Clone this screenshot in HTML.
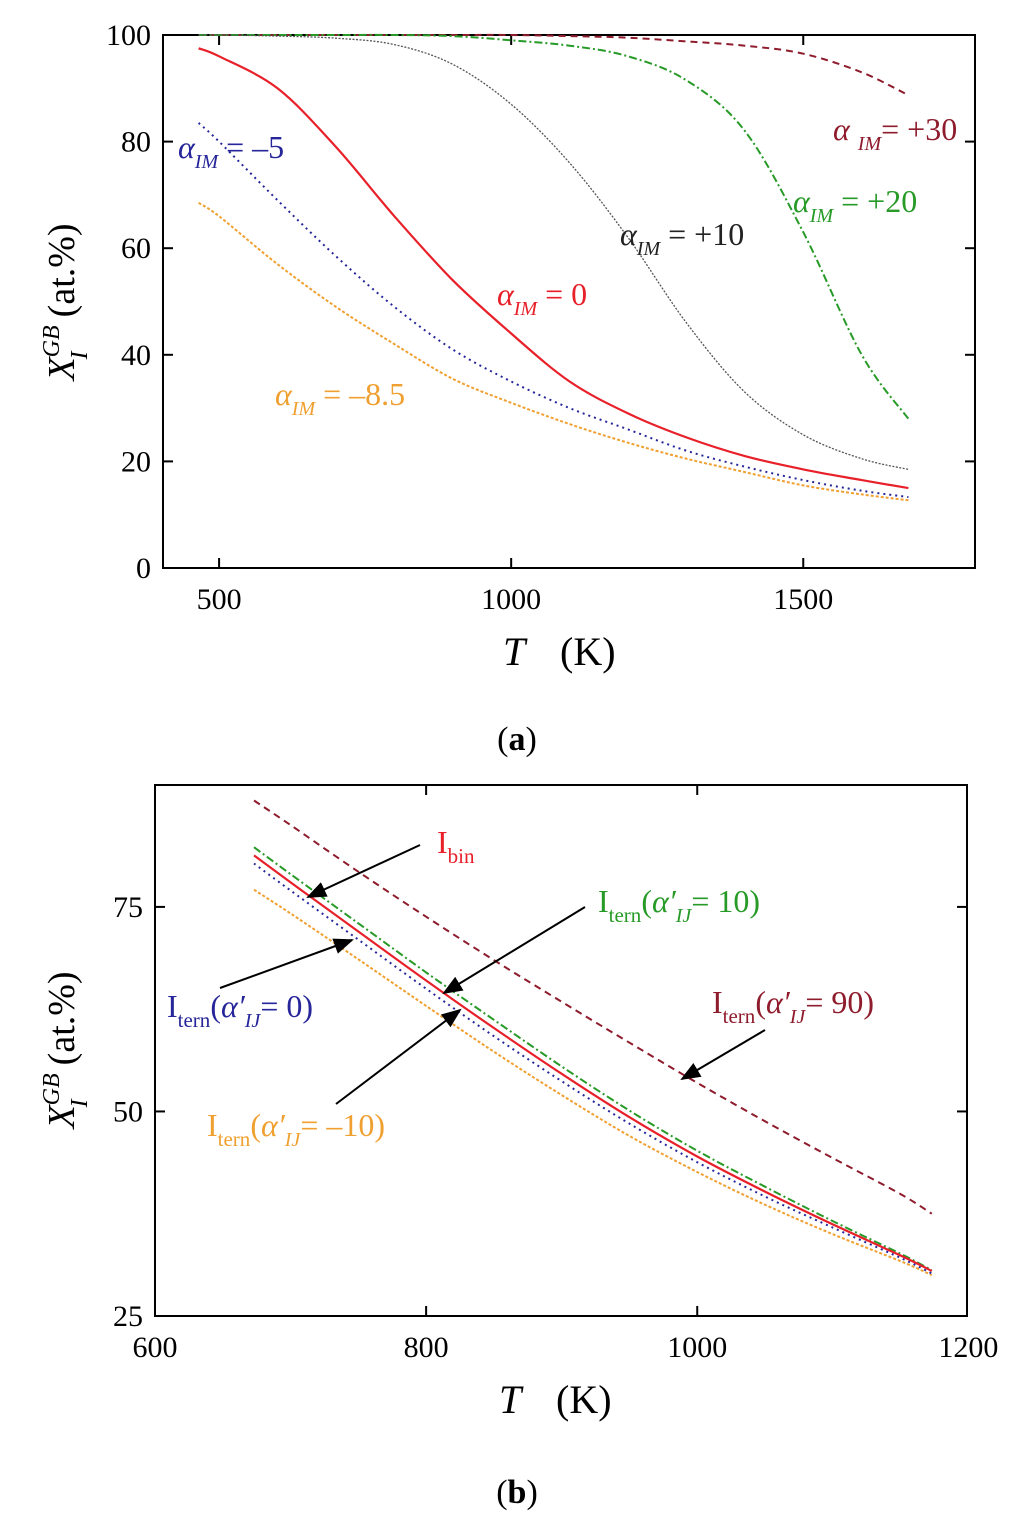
<!DOCTYPE html>
<html><head><meta charset="utf-8">
<style>
html,body{margin:0;padding:0;background:#fff;}
svg{display:block;font-family:"Liberation Serif",serif;}
</style></head>
<body>
<svg id="fig" width="1024" height="1527" viewBox="0 0 1024 1527" xmlns="http://www.w3.org/2000/svg">
<g id="pa"></g>
<g id="pb"></g>
</svg>
<script>
// ---- Panel (a) data ----
const tempA = [465,500,600,700,800,900,1000,1100,1200,1300,1400,1500,1600,1680];
const alphaM85 = [68.5,66,57,49,42,35.5,31,27,23.5,20.5,18,15.5,13.8,12.7];
const alphaM5 = [83.5,80,69,58.5,49,41,35,30,26,22,19,16.5,14.5,13.3];
const alpha0 = [97.5,96,90,79,66,54,44,35,29,24.5,21,18.5,16.5,15];
const alphaP10 = [100,100,99.8,99.4,98.2,94.5,87,76,62,46,33,25,20.5,18.5];
const alphaP20 = [100,100,100,100,100,99.8,99,98,96,91.5,82,63,40,28];
const alphaP30 = [100,100,100,100,100,100,100,99.8,99.5,98.8,98,96.5,93,88.7];
const xTicksA = [500,1000,1500];
const yTicksA = [0,20,40,60,80,100];
// ---- Panel (b) data ----
const tempB = [673,700,750,800,850,900,950,1000,1050,1100,1150,1173];
const ternM10 = [77.1,74.2,68.6,62.9,57.3,52,47,42.6,38.6,35,31.7,30];
const tern0 = [80.3,77,71,65,59.2,53.7,48.5,43.8,39.6,35.8,32.1,30.2];
const binI = [81.3,78,72,66,60.2,54.6,49.3,44.5,40.2,36.2,32.4,30.5];
const tern10 = [82.3,79,73,67,61.2,55.5,50.1,45.2,40.8,36.6,32.6,30.6];
const tern90 = [88,85,79.3,73.8,68.5,63.4,58.4,53.5,48.8,44.3,39.9,37.5];
const xTicksB = [600,800,1000,1200];
const yTicksB = [25,50,75];

const NS="http://www.w3.org/2000/svg";
function mk(tag, parent, attrs){const e=document.createElementNS(NS,tag);for(const k in attrs)e.setAttribute(k,attrs[k]);parent.appendChild(e);return e;}

function panel(g, box, xd, yd, xt, yt){
  const sx=v=>box.x0+(v-xd[0])/(xd[1]-xd[0])*(box.x1-box.x0);
  const sy=v=>box.y1-(v-yd[0])/(yd[1]-yd[0])*(box.y1-box.y0);
  const fr=mk('rect',g,{x:box.x0,y:box.y0,width:box.x1-box.x0,height:box.y1-box.y0,fill:'none',stroke:'#000','stroke-width':2});
  
  
  xt.forEach(v=>{
    const x=sx(v);
    if(x>box.x0+2&&x<box.x1-2){
      const t1=mk('line',g,{x1:x,x2:x,y1:box.y1,y2:box.y1-10,stroke:'#000','stroke-width':2});
      
      
      const t2=mk('line',g,{x1:x,x2:x,y1:box.y0,y2:box.y0+10,stroke:'#000','stroke-width':2});
      
      
    }
    const lb=mk('text',g,{x:x,y:box.y1+41,'font-size':30,'text-anchor':'middle',fill:'#000'});
    lb.textContent=v;
    
    
  });
  yt.forEach(v=>{
    const y=sy(v);
    if(y>box.y0+2&&y<box.y1-2){
      const t1=mk('line',g,{x1:box.x0,x2:box.x0+10,y1:y,y2:y,stroke:'#000','stroke-width':2});
      
      
      const t2=mk('line',g,{x1:box.x1,x2:box.x1-10,y1:y,y2:y,stroke:'#000','stroke-width':2});
      
      
    }
    const lb=mk('text',g,{x:box.x0-12,y:y+10,'font-size':30,'text-anchor':'end',fill:'#000'});
    lb.textContent=v;
    
    
  });
  return {sx,sy};
}
function series(g,s,xs,ys,color,w,dash,name){
  const P=xs.map((t,i)=>[s.sx(t),s.sy(ys[i])]);
  let d='M'+P[0][0].toFixed(1)+','+P[0][1].toFixed(1);
  for(let i=0;i<P.length-1;i++){
    const p0=P[Math.max(0,i-1)],p1=P[i],p2=P[i+1],p3=P[Math.min(P.length-1,i+2)];
    const c1=[p1[0]+(p2[0]-p0[0])/6,p1[1]+(p2[1]-p0[1])/6];
    const c2=[p2[0]-(p3[0]-p1[0])/6,p2[1]-(p3[1]-p1[1])/6];
    d+=' C'+c1[0].toFixed(1)+','+c1[1].toFixed(1)+' '+c2[0].toFixed(1)+','+c2[1].toFixed(1)+' '+p2[0].toFixed(1)+','+p2[1].toFixed(1);
  }
  const p=mk('path',g,{d:d,fill:'none',stroke:color,'stroke-width':w,'stroke-dasharray':dash,'stroke-linejoin':'round'});
  
  
}

const RED='#e8202a',GRAY='#555',GREEN='#279a27',DRED='#8e1c2c',BLUE='#26269a',ORANGE='#f0a030';

const ga=document.getElementById('pa');
const sA=panel(ga,{x0:163,y0:35,x1:975,y1:568},[404,1794],[0,100],xTicksA,yTicksA);
series(ga,sA,tempA,alphaP30,DRED,2,'7,5','line-alpha-plus30');
series(ga,sA,tempA,alphaP20,GREEN,2,'8,3,2,3','line-alpha-plus20');
series(ga,sA,tempA,alphaP10,GRAY,1.3,'2,1.5','line-alpha-plus10');
series(ga,sA,tempA,alphaM85,ORANGE,2,'3,2','line-alpha-minus8p5');
series(ga,sA,tempA,alphaM5,BLUE,2,'2,4','line-alpha-minus5');
series(ga,sA,tempA,alpha0,RED,2.2,'','line-alpha-0');

const gb=document.getElementById('pb');
const sB=panel(gb,{x0:155,y0:785,x1:967,y1:1316},[600,1199],[25,89.9],xTicksB,yTicksB);
series(gb,sB,tempB,tern90,DRED,2,'7,5','line-tern-90');
series(gb,sB,tempB,ternM10,ORANGE,2,'3,2','line-tern-minus10');
series(gb,sB,tempB,tern0,BLUE,2,'2,4','line-tern-0');
series(gb,sB,tempB,tern10,GREEN,2,'8,3,2,3','line-tern-10');
series(gb,sB,tempB,binI,RED,2.2,'','line-bin');
</script>

<svg style="position:absolute;left:0;top:0" width="1024" height="1527" viewBox="0 0 1024 1527" xmlns="http://www.w3.org/2000/svg" font-family="Liberation Serif, serif">
<defs><marker id="ah" markerWidth="10" markerHeight="8" refX="9" refY="4" orient="auto"><path d="M0,0 L10,4 L0,8 z" fill="#000"/></marker></defs>
<text x="178" y="158" font-size="32" fill="#26269a"><tspan font-style="italic">α</tspan><tspan font-size="20" font-style="italic" dy="10">IM</tspan><tspan dy="-10"> = –5</tspan></text>
<text x="833" y="140" font-size="32" fill="#8e1c2c"><tspan font-style="italic">α</tspan><tspan font-size="20" font-style="italic" dx="8" dy="10">IM</tspan><tspan dy="-10">= +30</tspan></text>
<text x="793" y="212" font-size="32" fill="#279a27"><tspan font-style="italic">α</tspan><tspan font-size="20" font-style="italic" dy="10">IM</tspan><tspan dy="-10"> = +20</tspan></text>
<text x="620" y="245" font-size="32" fill="#222"><tspan font-style="italic">α</tspan><tspan font-size="20" font-style="italic" dy="10">IM</tspan><tspan dy="-10"> = +10</tspan></text>
<text x="497" y="305" font-size="32" fill="#e8202a"><tspan font-style="italic">α</tspan><tspan font-size="20" font-style="italic" dy="10">IM</tspan><tspan dy="-10"> = 0</tspan></text>
<text x="275" y="405" font-size="32" fill="#f0a030"><tspan font-style="italic">α</tspan><tspan font-size="20" font-style="italic" dy="10">IM</tspan><tspan dy="-10"> = –8.5</tspan></text>
<g transform="translate(74,302) rotate(-90)"><text x="0" y="0" font-size="38" text-anchor="middle"><tspan font-style="italic">X</tspan><tspan font-size="24" font-style="italic" dy="-15">GB</tspan><tspan font-size="24" font-style="italic" dx="-34" dy="28">I</tspan><tspan dx="34" dy="-13">(at.%)</tspan></text></g>
<text y="665" font-size="40"><tspan x="503" font-style="italic">T</tspan><tspan x="560">(K)</tspan></text>
<text x="517" y="750" font-size="34" text-anchor="middle">(<tspan font-weight="bold">a</tspan>)</text>
<text x="437" y="853" font-size="32" fill="#e8202a">I<tspan font-size="21" dy="10">bin</tspan></text>
<line x1="420" y1="845" x2="308" y2="897" stroke="#000" stroke-width="2" marker-end="url(#ah)"/>
<text x="598" y="912" font-size="32" fill="#279a27">I<tspan font-size="21" dy="10">tern</tspan><tspan dy="-10">(</tspan><tspan font-style="italic">α′</tspan><tspan font-size="20" font-style="italic" dy="10">IJ</tspan><tspan dy="-10">= 10)</tspan></text>
<line x1="585" y1="907" x2="444" y2="993" stroke="#000" stroke-width="2" marker-end="url(#ah)"/>
<text x="167" y="1017" font-size="32" fill="#26269a">I<tspan font-size="21" dy="10">tern</tspan><tspan dy="-10">(</tspan><tspan font-style="italic">α′</tspan><tspan font-size="20" font-style="italic" dy="10">IJ</tspan><tspan dy="-10">= 0)</tspan></text>
<line x1="220" y1="988" x2="352" y2="940" stroke="#000" stroke-width="2" marker-end="url(#ah)"/>
<text x="207" y="1136" font-size="32" fill="#f0a030">I<tspan font-size="21" dy="10">tern</tspan><tspan dy="-10">(</tspan><tspan font-style="italic">α′</tspan><tspan font-size="20" font-style="italic" dy="10">IJ</tspan><tspan dy="-10">= –10)</tspan></text>
<line x1="336" y1="1104" x2="460" y2="1010" stroke="#000" stroke-width="2" marker-end="url(#ah)"/>
<text x="712" y="1013" font-size="32" fill="#8e1c2c">I<tspan font-size="21" dy="10">tern</tspan><tspan dy="-10">(</tspan><tspan font-style="italic">α′</tspan><tspan font-size="20" font-style="italic" dy="10">IJ</tspan><tspan dy="-10">= 90)</tspan></text>
<line x1="765" y1="1030" x2="682" y2="1079" stroke="#000" stroke-width="2" marker-end="url(#ah)"/>
<g transform="translate(74,1050) rotate(-90)"><text x="0" y="0" font-size="38" text-anchor="middle"><tspan font-style="italic">X</tspan><tspan font-size="24" font-style="italic" dy="-15">GB</tspan><tspan font-size="24" font-style="italic" dx="-34" dy="28">I</tspan><tspan dx="34" dy="-13">(at.%)</tspan></text></g>
<text y="1413" font-size="40"><tspan x="499" font-style="italic">T</tspan><tspan x="556">(K)</tspan></text>
<text x="517" y="1503" font-size="34" text-anchor="middle">(<tspan font-weight="bold">b</tspan>)</text>
</svg>
</body></html>
